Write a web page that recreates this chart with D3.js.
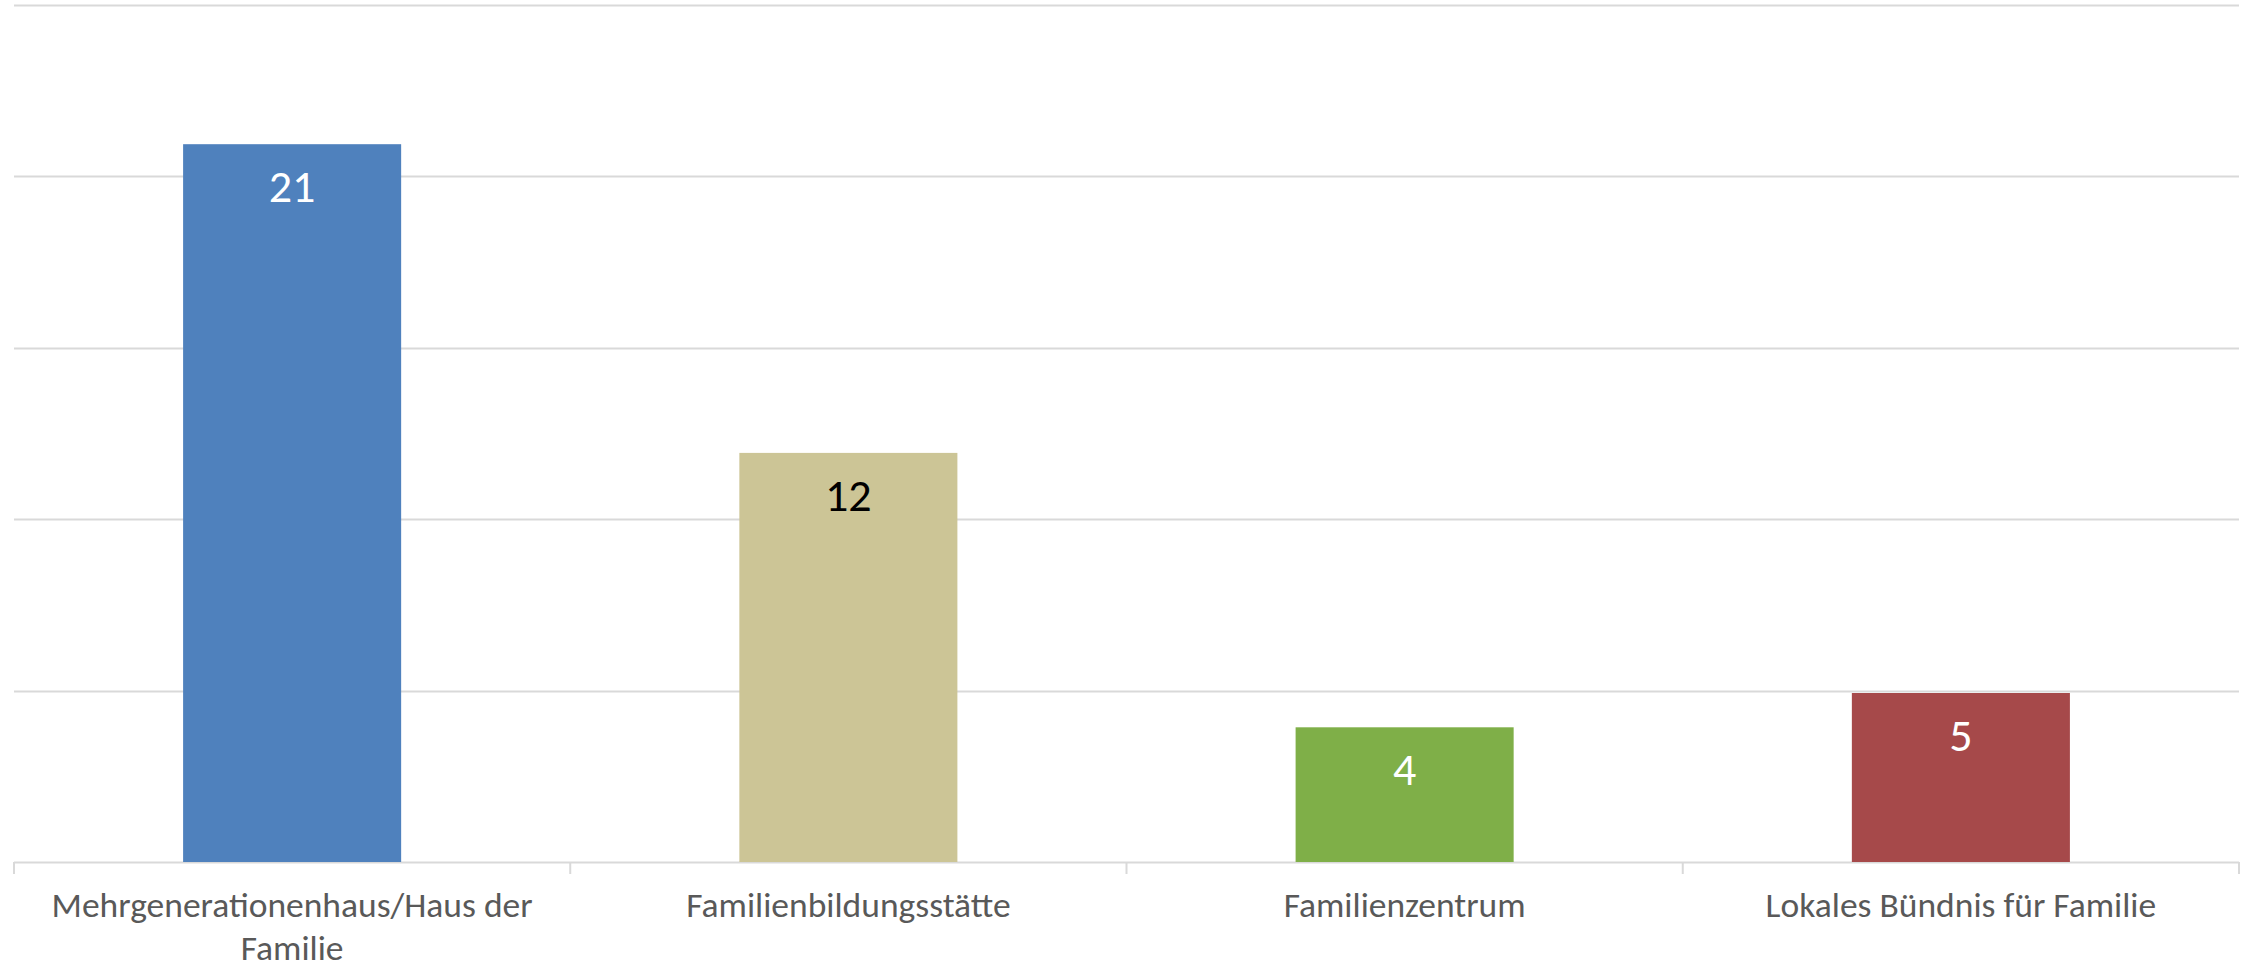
<!DOCTYPE html>
<html>
<head>
<meta charset="utf-8">
<script src="https://cdn.jsdelivr.net/npm/d3@7"></script>
<style>
  body { margin: 0; background: #fff; }
  svg text { font-family: Carlito, Calibri, Lato, "Open Sans", sans-serif; }
</style>
</head>
<body>
<div id="chart"></div>
<script>
// data
var categories = ["Mehrgenerationenhaus/Haus der Familie", "Familienbildungsstätte", "Familienzentrum", "Lokales Bündnis für Familie"];
var categoryLines = [["Mehrgenerationenhaus/Haus der", "Familie"], ["Familienbildungsstätte"], ["Familienzentrum"], ["Lokales Bündnis für Familie"]];
var values = [21, 12, 4, 5];
var barColors = ["#4f81bd", "#ccc596", "#7faf48", "#a6494a"];
var labelColors = ["#ffffff", "#000000", "#ffffff", "#ffffff"];
var yTicks = [0, 5, 10, 15, 20, 25];

var width = 2246,
  height = 972,
  margin = {top: 4.5, right: 7, bottom: 110, left: 14};

var svg = d3.select("#chart").append("svg")
  .attr("width", width)
  .attr("height", height);

var x = d3.scaleBand()
  .domain(categories)
  .range([margin.left, width - margin.right])
  .paddingInner(0.608)
  .paddingOuter(0.304);

var y = d3.scaleLinear()
  .domain([0, 25])
  .range([height - margin.bottom, margin.top]);

// bar tops sit a hair below the gridline they reach
var barInset = 2.5;

// gridlines
svg.append("g")
  .selectAll("line")
  .data(yTicks)
  .enter().append("line")
  .attr("x1", margin.left)
  .attr("x2", width - margin.right)
  .attr("y1", function(d) { return Math.round(y(d)) + 0.5; })
  .attr("y2", function(d) { return Math.round(y(d)) + 0.5; })
  .attr("stroke", "#d9d9d9")
  .attr("stroke-width", 2);

// category divider ticks
var bounds = d3.range(categories.length + 1).map(function(i) { return margin.left + i * (width - margin.left - margin.right) / categories.length; });
svg.append("g")
  .selectAll("line")
  .data(bounds)
  .enter().append("line")
  .attr("x1", function(d) { return d; })
  .attr("x2", function(d) { return d; })
  .attr("y1", y(0))
  .attr("y2", y(0) + 12)
  .attr("stroke", "#d9d9d9")
  .attr("stroke-width", 2);

// bars
svg.append("g")
  .selectAll("rect")
  .data(values)
  .enter().append("rect")
  .attr("x", function(d, i) { return x(categories[i]); })
  .attr("y", function(d) { return y(d) + barInset; })
  .attr("width", x.bandwidth())
  .attr("height", function(d) { return y(0) - y(d) - barInset; })
  .attr("fill", function(d, i) { return barColors[i]; });

// value labels
svg.append("g")
  .selectAll("text")
  .data(values)
  .enter().append("text")
  .attr("x", function(d, i) { return x(categories[i]) + x.bandwidth() / 2; })
  .attr("y", function(d) { return y(d) + barInset + 42; })
  .attr("text-anchor", "middle")
  .attr("dominant-baseline", "central")
  .attr("font-size", 46)
  .attr("fill", function(d, i) { return labelColors[i]; })
  .text(function(d) { return d; });

// category labels, one text per line
var catG = svg.append("g");
categories.forEach(function(c, i) {
  catG.selectAll(null)
    .data(categoryLines[i])
    .enter().append("text")
    .attr("x", x(c) + x.bandwidth() / 2)
    .attr("y", function(d, j) { return 905 + j * 43; })
    .attr("dy", "0.35em")
    .attr("text-anchor", "middle")
    .attr("font-size", 35.5)
    .attr("fill", "#595959")
    .text(function(d) { return d; });
});
</script>
</body>
</html>
